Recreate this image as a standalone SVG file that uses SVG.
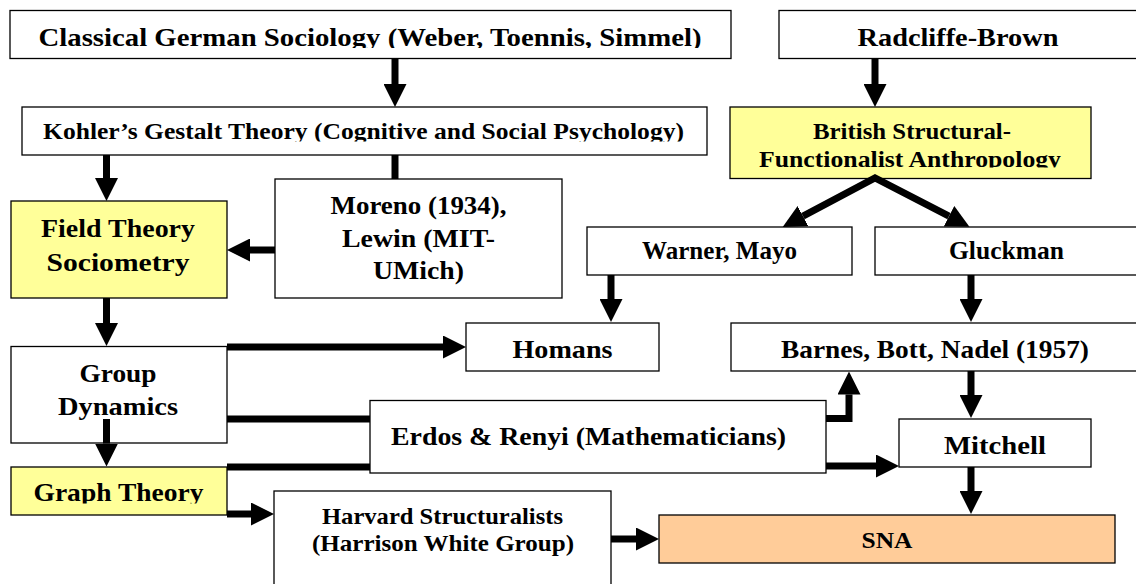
<svg xmlns="http://www.w3.org/2000/svg" width="1136" height="584" viewBox="0 0 1136 584">
<style>
.box{stroke:#000;stroke-width:1.3;fill:#fff}
.yellow{fill:#FFFF99}
.orange{fill:#FFCC99}
text{font-family:"Liberation Serif","Times New Roman",serif;font-weight:bold;fill:#000;text-anchor:middle;font-size:25px}
.s23{font-size:23px}
.s26{font-size:26px}
.conn{stroke:#000;stroke-width:7;fill:none}
.arr{marker-end:url(#head)}
</style>
<defs>
<marker id="head" markerUnits="userSpaceOnUse" viewBox="0 0 23 23" markerWidth="23" markerHeight="23" refX="0" refY="11.5" orient="auto-start-reverse">
<path d="M0,0 L23,11.5 L0,23 z" fill="#000"/>
</marker>
<clipPath id="clipClassical"><rect x="0" y="0" width="1136" height="48"/></clipPath>
<clipPath id="clipKohler"><rect x="0" y="100" width="1136" height="41.5"/></clipPath>
<clipPath id="clipBritish"><rect x="700" y="100" width="436" height="67.5"/></clipPath>
<clipPath id="clipGraph"><rect x="0" y="460" width="300" height="43.5"/></clipPath>
</defs>
<rect width="1136" height="584" fill="#fff"/>

<g id="classical">
<rect class="box" x="10" y="10.5" width="721" height="48"/>
<text class="s26" x="370" y="46" textLength="663" lengthAdjust="spacingAndGlyphs" clip-path="url(#clipClassical)">Classical German Sociology (Weber, Toennis, Simmel)</text>
</g>
<g id="radcliffe">
<rect class="box" x="779" y="10.5" width="362" height="48"/>
<text class="s26" x="958" y="46" textLength="201" lengthAdjust="spacingAndGlyphs">Radcliffe-Brown</text>
</g>
<g id="kohler">
<rect class="box" x="22" y="107" width="685" height="48"/>
<text class="s23" x="363.5" y="139" textLength="641" lengthAdjust="spacingAndGlyphs" clip-path="url(#clipKohler)">Kohler’s Gestalt Theory (Cognitive and Social Psychology)</text>
</g>
<g id="british">
<rect class="box yellow" x="730" y="107" width="361" height="71.5"/>
<text class="s23" x="912" y="139" textLength="198" lengthAdjust="spacingAndGlyphs">British Structural-</text>
<text class="s23" x="910" y="166.5" textLength="302" lengthAdjust="spacingAndGlyphs" clip-path="url(#clipBritish)">Functionalist Anthropology</text>
</g>
<g id="field">
<rect class="box yellow" x="11" y="201" width="216" height="97"/>
<text x="118" y="237" textLength="154" lengthAdjust="spacingAndGlyphs">Field Theory</text>
<text x="118" y="270.5" textLength="143" lengthAdjust="spacingAndGlyphs">Sociometry</text>
</g>
<g id="moreno">
<rect class="box" x="275" y="179" width="287" height="119"/>
<text x="418.5" y="213.5" textLength="176" lengthAdjust="spacingAndGlyphs">Moreno (1934),</text>
<text x="418.5" y="246.5" textLength="153" lengthAdjust="spacingAndGlyphs">Lewin (MIT-</text>
<text x="418.5" y="279" textLength="91" lengthAdjust="spacingAndGlyphs">UMich)</text>
</g>
<g id="warner">
<rect class="box" x="587" y="227" width="265" height="48"/>
<text x="719.5" y="259" textLength="155" lengthAdjust="spacingAndGlyphs">Warner, Mayo</text>
</g>
<g id="gluckman">
<rect class="box" x="875" y="227" width="266" height="48"/>
<text x="1006.5" y="259" textLength="115" lengthAdjust="spacingAndGlyphs">Gluckman</text>
</g>
<g id="homans">
<rect class="box" x="466" y="323" width="193" height="48"/>
<text x="562.5" y="357.5" textLength="100" lengthAdjust="spacingAndGlyphs">Homans</text>
</g>
<g id="barnes">
<rect class="box" x="731" y="323" width="410" height="48"/>
<text x="935" y="357.5" textLength="308" lengthAdjust="spacingAndGlyphs">Barnes, Bott, Nadel (1957)</text>
</g>
<g id="group">
<rect class="box" x="11" y="346.5" width="216" height="96.5"/>
<text x="118" y="382" textLength="77" lengthAdjust="spacingAndGlyphs">Group</text>
<text x="118" y="414.5" textLength="120" lengthAdjust="spacingAndGlyphs">Dynamics</text>
</g>
<g id="erdos">
<rect class="box" x="370" y="400.5" width="456" height="72.5"/>
<text x="588.5" y="444.5" textLength="395" lengthAdjust="spacingAndGlyphs">Erdos &amp; Renyi (Mathematicians)</text>
</g>
<g id="mitchell">
<rect class="box" x="899" y="419" width="192" height="48"/>
<text x="995" y="453.5" textLength="102" lengthAdjust="spacingAndGlyphs">Mitchell</text>
</g>
<g id="graph">
<rect class="box yellow" x="11" y="467" width="216" height="48"/>
<text x="118.5" y="501.3" textLength="170" lengthAdjust="spacingAndGlyphs" clip-path="url(#clipGraph)">Graph Theory</text>
</g>
<g id="harvard">
<rect class="box" x="274" y="491" width="337" height="100"/>
<text class="s23" x="442.5" y="523.5" textLength="241" lengthAdjust="spacingAndGlyphs">Harvard Structuralists</text>
<text class="s23" x="443" y="551" textLength="262" lengthAdjust="spacingAndGlyphs">(Harrison White Group)</text>
</g>
<g id="sna">
<rect class="box orange" x="659" y="515" width="456" height="48"/>
<text class="s23" x="887" y="548" textLength="51" lengthAdjust="spacingAndGlyphs">SNA</text>
</g>

<g id="connectors">
<line class="conn arr" x1="395" y1="58" x2="395" y2="84"/>
<line class="conn arr" x1="875" y1="58" x2="875" y2="84"/>
<line class="conn arr" x1="106.5" y1="155" x2="106.5" y2="178"/>
<line class="conn" x1="395" y1="155" x2="395" y2="179"/>
<line class="conn arr" x1="275" y1="250" x2="250" y2="250"/>
<path class="conn" d="M803,216.2 L875,178 L949,216.2" marker-start="url(#head)" marker-end="url(#head)"/>
<line class="conn arr" x1="611" y1="275" x2="611" y2="299"/>
<line class="conn arr" x1="971" y1="275" x2="971" y2="299"/>
<line class="conn arr" x1="106.5" y1="298" x2="106.5" y2="323"/>
<line class="conn arr" x1="227" y1="347" x2="443" y2="347"/>
<line class="conn arr" x1="106.5" y1="419" x2="106.5" y2="443.5"/>
<line class="conn" x1="227" y1="419" x2="370" y2="419"/>
<path class="conn arr" d="M826,418.5 H849 V394.5"/>
<line class="conn arr" x1="971" y1="371" x2="971" y2="395"/>
<line class="conn" x1="227" y1="467" x2="370" y2="467"/>
<line class="conn arr" x1="826" y1="466" x2="876" y2="466"/>
<line class="conn arr" x1="971" y1="467" x2="971" y2="491"/>
<line class="conn arr" x1="227" y1="514" x2="251" y2="514"/>
<line class="conn arr" x1="611" y1="539" x2="636" y2="539"/>
</g>
</svg>
